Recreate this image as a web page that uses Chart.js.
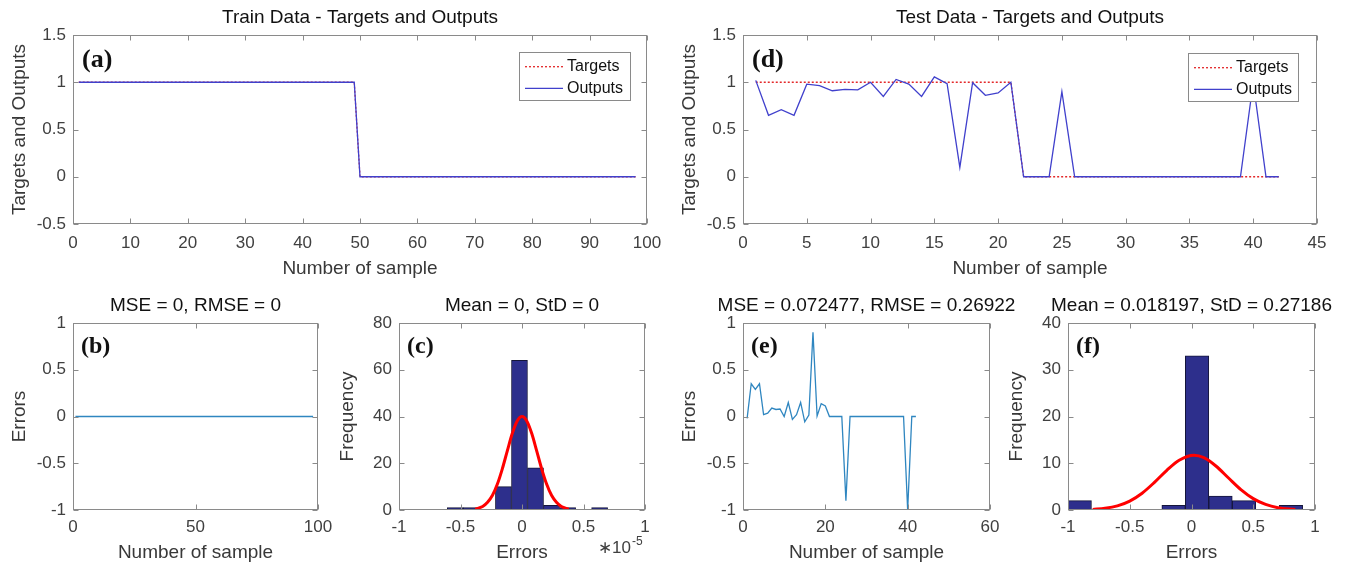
<!DOCTYPE html>
<html><head><meta charset="utf-8">
<script src="https://cdn.jsdelivr.net/npm/chart.js@4.4.0/dist/chart.umd.min.js"></script>
<style>
html,body{margin:0;padding:0;background:#fff;overflow:hidden;}
#fig{position:relative;width:1345px;height:566px;background:#fff;overflow:hidden;}
#fig canvas{position:absolute;}
</style></head><body><div id="fig"></div>
<script>
// ---------------- data ----------------
const trainSamples = [1,2,3,4,5,6,7,8,9,10,11,12,13,14,15,16,17,18,19,20,
  21,22,23,24,25,26,27,28,29,30,31,32,33,34,35,36,37,38,39,40,
  41,42,43,44,45,46,47,48,49,50,51,52,53,54,55,56,57,58,59,60,
  61,62,63,64,65,66,67,68,69,70,71,72,73,74,75,76,77,78,79,80,
  81,82,83,84,85,86,87,88,89,90,91,92,93,94,95,96,97,98];
const trainTargets = [1,1,1,1,1,1,1,1,1,1, 1,1,1,1,1,1,1,1,1,1, 1,1,1,1,1,1,1,1,1,1,
  1,1,1,1,1,1,1,1,1,1, 1,1,1,1,1,1,1,1,1,0, 0,0,0,0,0,0,0,0,0,0, 0,0,0,0,0,0,0,0,0,0,
  0,0,0,0,0,0,0,0,0,0, 0,0,0,0,0,0,0,0,0,0, 0,0,0,0,0,0,0,0];
const trainOutputs = [1,1,1,1,1,1,1,1,1,1, 1,1,1,1,1,1,1,1,1,1, 1,1,1,1,1,1,1,1,1,1,
  1,1,1,1,1,1,1,1,1,1, 1,1,1,1,1,1,1,1,1,0, 0,0,0,0,0,0,0,0,0,0, 0,0,0,0,0,0,0,0,0,0,
  0,0,0,0,0,0,0,0,0,0, 0,0,0,0,0,0,0,0,0,0, 0,0,0,0,0,0,0,0];
const trainErrors = [0,0,0,0,0,0,0,0,0,0, 0,0,0,0,0,0,0,0,0,0, 0,0,0,0,0,0,0,0,0,0,
  0,0,0,0,0,0,0,0,0,0, 0,0,0,0,0,0,0,0,0,0, 0,0,0,0,0,0,0,0,0,0, 0,0,0,0,0,0,0,0,0,0,
  0,0,0,0,0,0,0,0,0,0, 0,0,0,0,0,0,0,0,0,0, 0,0,0,0,0,0,0,0];
// train error histogram (x in units of 1e-5)
const trainBinCenters = [-0.542,-0.412,-0.281,-0.151,-0.0205,0.110,0.240,0.371,0.501,0.631];
const trainBinCounts  = [1,1,0,10,64,18,2,1,0,1];
const trainFitX = [-0.38,-0.32,-0.28,-0.24,-0.2,-0.16,-0.12,-0.08,-0.04,0,0.04,0.08,0.12,0.16,0.2,0.24,0.28,0.32,0.38];
const trainFitY = [0.4,1.5,3.3,6.3,11.1,17.6,25.2,32.6,38.0,40,38.0,32.6,25.2,17.6,11.1,6.3,3.3,1.5,0.4];

const testSamples = [1,2,3,4,5,6,7,8,9,10,11,12,13,14,15,16,17,18,19,20,21,
  22,23,24,25,26,27,28,29,30,31,32,33,34,35,36,37,38,39,40,41,42];
const testTargets = [1,1,1,1,1,1,1,1,1,1,1,1,1,1,1,1,1,1,1,1,1,
  0,0,0,0,0,0,0,0,0,0,0,0,0,0,0,0,0,0,0,0,0];
const testOutputs = [1.02,0.65,0.71,0.65,0.98,0.965,0.91,0.925,0.92,1.0,0.85,1.03,0.98,0.85,1.057,0.985,0.10,0.995,0.862,0.887,1.0,
  0,0,0,0.90,0,0,0,0,0,0,0,0,0,0,0,0,0,0,1.0,0,0];
const testErrors = [-0.02,0.35,0.29,0.35,0.02,0.035,0.09,0.075,0.08,0,0.15,-0.03,0.02,0.15,-0.057,0.015,0.90,0.005,0.138,0.113,0,
  0,0,0,-0.90,0,0,0,0,0,0,0,0,0,0,0,0,0,0,-1.0,0,0];
const testBinCenters = [-0.905,-0.715,-0.525,-0.335,-0.145,0.045,0.235,0.425,0.615,0.805];
const testBinCounts  = [2,0,0,0,1,33,3,2,0,1];
const testFitX = [-0.8,-0.7,-0.6,-0.5,-0.4,-0.3,-0.2,-0.1,0.02,0.1,0.2,0.3,0.4,0.5,0.6,0.7,0.84];
const testFitY = [0.13,0.36,0.88,1.90,3.59,5.91,8.49,10.65,11.71,11.19,9.36,6.84,4.37,2.44,1.19,0.50,0.12];

const titles = {
  a:'Train Data - Targets and Outputs', d:'Test Data - Targets and Outputs',
  b:'MSE = 0, RMSE = 0', c:'Mean = 0, StD = 0',
  e:'MSE = 0.072477, RMSE = 0.26922', f:'Mean = 0.018197, StD = 0.27186'
};

// ---------------- styling ----------------
const FONT = '"Liberation Sans", Arial, Helvetica, sans-serif';
const TICK = '#404040', TXT = '#383838', BOX = '#8a8a8a';
const YW = 73, XH = 60, TH = 35;
const fig = document.getElementById('fig');
const fmt = v => String(Math.round(v * 1000) / 1000);
const pts = (xs, ys) => xs.map((x, i) => ({x: x, y: ys[i]}));

const matlabAxes = {
  id: 'matlabAxes',
  afterDatasetsDraw(chart, args, o) {
    const ctx = chart.ctx, a = chart.chartArea, xs = chart.scales.x, ys = chart.scales.y;
    ctx.save();
    ctx.strokeStyle = BOX; ctx.lineWidth = 1;
    const L = Math.round(a.left) + 0.5, R = Math.round(a.right) - 0.5;
    const T = Math.round(a.top) + 0.5, B = Math.round(a.bottom) - 0.5;
    ctx.beginPath();
    xs.ticks.forEach(t => { const px = Math.round(xs.getPixelForValue(t.value)) + 0.5;
      ctx.moveTo(px, B); ctx.lineTo(px, B - 5); ctx.moveTo(px, T); ctx.lineTo(px, T + 5); });
    ys.ticks.forEach(t => { const py = Math.round(ys.getPixelForValue(t.value)) + 0.5;
      ctx.moveTo(L, py); ctx.lineTo(L + 5, py); ctx.moveTo(R, py); ctx.lineTo(R - 5, py); });
    ctx.stroke();
    ctx.strokeRect(L, T, R - L, B - T);
    if (o.legend) {
      const lg = o.legend;
      const bx = Math.round(a.right - lg.right - lg.w), by = Math.round(a.top + lg.top);
      ctx.fillStyle = '#fff'; ctx.fillRect(bx, by, lg.w, lg.h);
      ctx.strokeStyle = BOX; ctx.strokeRect(bx + 0.5, by + 0.5, lg.w, lg.h);
      ctx.font = '16px ' + FONT; ctx.textBaseline = 'middle'; ctx.textAlign = 'left';
      chart.data.datasets.filter(d => d.label).forEach((d, i) => {
        const cy = by + 14.7 + i * 21.6;
        ctx.strokeStyle = d.borderColor; ctx.lineWidth = d.borderWidth;
        ctx.setLineDash(d.borderDash || []);
        ctx.beginPath(); ctx.moveTo(bx + 6, cy); ctx.lineTo(bx + 44, cy); ctx.stroke();
        ctx.setLineDash([]);
        ctx.fillStyle = '#111'; ctx.fillText(d.label, bx + 48, cy);
      });
    }
    if (o.tag) {
      ctx.fillStyle = '#111'; ctx.textBaseline = 'alphabetic'; ctx.textAlign = 'left';
      ctx.font = 'bold ' + o.tagSize + 'px "Liberation Serif", "Times New Roman", serif';
      ctx.fillText(o.tag, a.left + o.tagDx, a.top + o.tagDy);
    }
    if (o.exponent) {
      ctx.fillStyle = TICK; ctx.textBaseline = 'alphabetic'; ctx.textAlign = 'left';
      ctx.font = '17px ' + FONT;
      const x0 = a.right - 47, y0 = a.bottom + 43;
      ctx.fillText('\u221710', x0, y0);
      const w = ctx.measureText('\u221710').width;
      ctx.font = '12px ' + FONT;
      ctx.fillText('-5', x0 + w + 1, y0 - 8);
    }
    ctx.restore();
  }
};
Chart.register(matlabAxes);

function panel(p) {
  const {L, T, R, B} = p.rect;
  const cv = document.createElement('canvas');
  const w = (R - L) + 2 * YW, h = (B - T) + TH + XH;
  cv.width = w; cv.height = h;
  cv.style.left = (L - YW) + 'px'; cv.style.top = (T - TH) + 'px';
  cv.style.width = w + 'px'; cv.style.height = h + 'px';
  fig.appendChild(cv);
  const top = p.top;
  return new Chart(cv, {
    type: p.type,
    data: {datasets: p.datasets},
    options: {
      responsive: false, animation: false, devicePixelRatio: 1,
      layout: {padding: 0},
      plugins: {
        legend: {display: false}, tooltip: {enabled: false},
        title: {display: true, text: p.title, color: '#111',
          font: {family: FONT, size: 19, weight: 'normal', lineHeight: 1.2},
          padding: {top: 6.6, bottom: 5.6}},
        matlabAxes: {tag: p.tag, tagSize: top ? 26 : 24, tagDx: top ? 9 : 8, tagDy: top ? 32 : 30,
          legend: p.legend, exponent: p.exponent}
      },
      scales: {
        x: {type: 'linear', position: 'bottom', min: p.x[0], max: p.x[1], offset: false,
          ticks: {stepSize: p.x[2], autoSkip: false, maxRotation: 0, color: TICK,
            padding: top ? 8.8 : 6.8, font: {family: FONT, size: 17}, callback: fmt},
          grid: {display: false, drawTicks: false}, border: {display: false},
          title: {display: true, text: p.xTitle, color: TXT, font: {family: FONT, size: 19},
            padding: {top: 0, bottom: top ? 3.6 : 5.6}},
          afterFit: s => { s.height = XH; }},
        y: {type: 'linear', position: 'left', min: p.y[0], max: p.y[1],
          ticks: {stepSize: p.y[2], color: TICK, padding: 7, font: {family: FONT, size: 17}, callback: fmt},
          grid: {display: false, drawTicks: false}, border: {display: false},
          title: {display: true, text: p.yTitle, color: TXT, font: {family: FONT, size: 19},
            padding: {top: p.yPad, bottom: 0}},
          afterFit: s => { s.width = YW; }},
        yr: {type: 'linear', position: 'right', display: true,
          ticks: {display: false}, grid: {display: false, drawTicks: false}, border: {display: false},
          afterFit: s => { s.width = YW; }}
      }
    }
  });
}

const TGT = '#e3282a', OUT = '#4040cc', ERR = '#2f86c0', BAR = '#2d2f8c', FIT = '#ff0000';

function tvPanel(rect, title, tag, xs, tg, out, xr, legend) {
  return panel({rect, top: true, type: 'line', title, tag, legend, yPad: 8.1,
    x: xr, y: [-0.5, 1.5, 0.5], xTitle: 'Number of sample', yTitle: 'Targets and Outputs',
    datasets: [
      {type: 'line', label: 'Targets', data: pts(xs, tg), borderColor: TGT, borderWidth: 1.3,
        borderDash: [2, 2], pointRadius: 0, tension: 0, order: 1},
      {type: 'line', label: 'Outputs', data: pts(xs, out), borderColor: OUT, borderWidth: 1.3,
        pointRadius: 0, tension: 0, order: 0}
    ]});
}
function errPanel(rect, title, tag, xs, err, xr) {
  return panel({rect, top: false, type: 'line', title, tag, yPad: 8.1,
    x: xr, y: [-1, 1, 0.5], xTitle: 'Number of sample', yTitle: 'Errors',
    datasets: [{type: 'line', data: pts(xs, err), borderColor: ERR, borderWidth: 1.3, pointRadius: 0, tension: 0}]});
}
function histPanel(rect, title, tag, centers, counts, fx, fy, yr, exponent) {
  return panel({rect, top: false, type: 'bar', title, tag, exponent, yPad: 10,
    x: [-1, 1, 0.5], y: yr, xTitle: 'Errors', yTitle: 'Frequency',
    datasets: [
      {type: 'line', data: pts(fx, fy), borderColor: FIT, borderWidth: 3, pointRadius: 0,
        tension: 0.4, cubicInterpolationMode: 'monotone', order: 0},
      {type: 'bar', data: pts(centers, counts), backgroundColor: BAR, borderColor: '#15163a',
        borderWidth: 1, barPercentage: 1, categoryPercentage: 1, grouped: false, order: 1}
    ]});
}

tvPanel({L: 73, T: 35, R: 647, B: 224}, titles.a, '(a)', trainSamples, trainTargets, trainOutputs,
  [0, 100, 10], {right: 17, top: 17, w: 111, h: 48});
tvPanel({L: 743, T: 35, R: 1317, B: 224}, titles.d, '(d)', testSamples, testTargets, testOutputs,
  [0, 45, 5], {right: 19, top: 18, w: 110, h: 48});
errPanel({L: 73, T: 323, R: 318, B: 510}, titles.b, '(b)', trainSamples, trainErrors, [0, 100, 50]);
histPanel({L: 399, T: 323, R: 645, B: 510}, titles.c, '(c)', trainBinCenters, trainBinCounts,
  trainFitX, trainFitY, [0, 80, 20], true);
errPanel({L: 743, T: 323, R: 990, B: 510}, titles.e, '(e)', testSamples, testErrors, [0, 60, 20]);
histPanel({L: 1068, T: 323, R: 1315, B: 510}, titles.f, '(f)', testBinCenters, testBinCounts,
  testFitX, testFitY, [0, 40, 10], false);
</script></body></html>
